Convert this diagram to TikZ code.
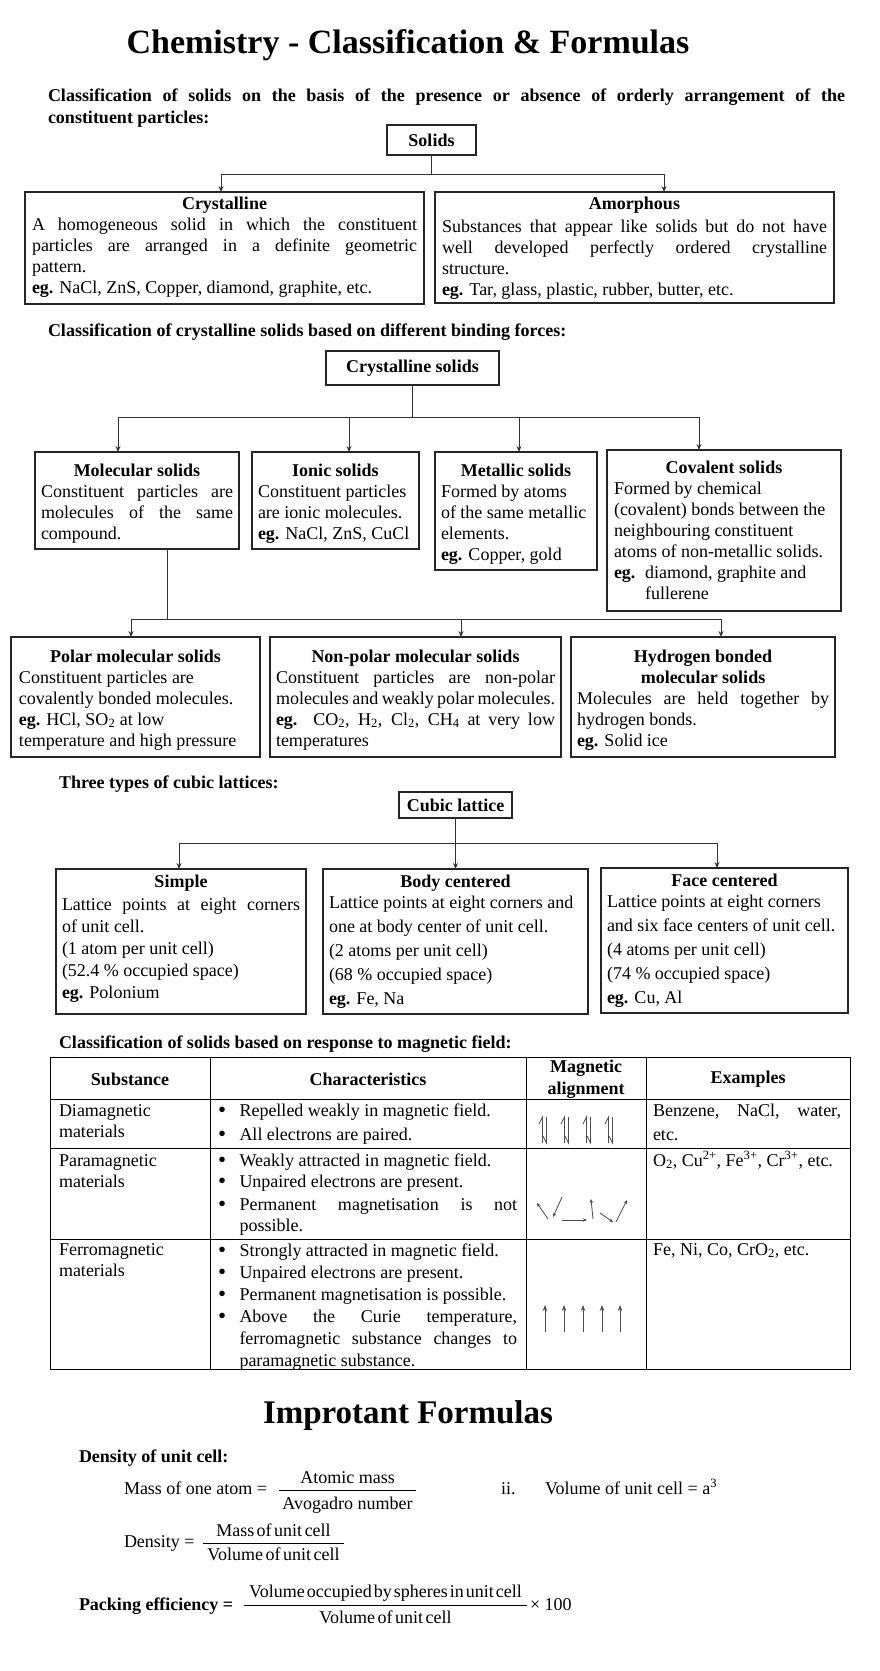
\documentclass[tikz,border=0pt]{standalone}
\usepackage{fontspec}
\setmainfont{Liberation Serif}
\usetikzlibrary{arrows.meta}
\newcommand\tline[2]{\hbox to\linewidth{\hfil\rule{0pt}{#1pt}\textbf{#2}\hfil}}
\newcommand\jline[1]{\hbox to\linewidth{#1}}
\newcommand\rline[1]{\hbox{#1}}
\newcommand\bdot{\makebox[21.5pt][l]{\raisebox{-1.2pt}{\fontsize{23}{23}\selectfont\textbullet}}}
\newcommand\bul[1]{\hbox{\bdot#1}}
\newcommand\bulj[1]{\hbox to\linewidth{\bdot#1}}
\newcommand\cnt[1]{\hbox{\hskip21.5pt #1}}
\newcommand\cntj[1]{\hbox to\linewidth{\hskip21.5pt #1}}
\newcommand\bx[8]{\node[boxs,inner xsep=#6pt] (#1) at (#2,#3) {\parbox[c][#5pt][t]{\dimexpr#4pt-#6pt*2\relax}{\fontsize{18}{#7}\selectfont #8}};}
\begin{document}
\begin{tikzpicture}[x=1pt,y=-1pt,font=\fontsize{18}{21}\selectfont]
\tikzset{
  boxs/.style={draw=black!85, line width=1.1pt, inner ysep=0pt, anchor=north west, outer sep=0pt},
  hbox/.style={boxs, inner xsep=0pt, font=\fontsize{18}{21}\selectfont\bfseries},
  conn/.style={draw=black!80, line width=1pt},
  arr/.style={conn, -{Stealth[length=6pt,width=5pt]}},
  txt/.style={inner sep=0pt, outer sep=0pt},
  head/.style={txt, anchor=base west, font=\fontsize{18}{22}\selectfont\bfseries},
  tab/.style={draw=black, line width=0.8pt},
  mag/.style={draw=black!70, line width=0.8pt},
  magar/.style={mag, -{Stealth[length=4pt,width=3.5pt]}},
}
\fill[white] (0,0) rectangle (880,1671);
\useasboundingbox (0,0) rectangle (880,1671);

% ---------- title ----------
\node[txt, anchor=base, font=\fontsize{34}{40}\selectfont\bfseries] (title) at (408,53) {Chemistry - Classification \& Formulas};

% ---------- section 1 ----------
\node[txt, anchor=base west] (h1) at (48,101) {\parbox[t]{797pt}{\fontsize{18}{22}\selectfont\bfseries
  \jline{Classification of solids on the basis of the presence or absence of orderly arrangement of the}
  \rline{constituent particles:}}};
\node[hbox, minimum width=89pt, minimum height=30pt] (solids) at (387,125) {Solids};
\bx{crys}{25}{192}{399}{112}{7}{21}{%
  \tline{17}{Crystalline}
  \jline{A homogeneous solid in which the constituent}
  \jline{particles are arranged in a definite geometric}
  \rline{pattern.}
  \rline{\textbf{eg.} NaCl, ZnS, Copper, diamond, graphite, etc.}}
\bx{amor}{435}{192}{399}{111}{7}{21}{%
  \tline{17}{Amorphous}\vskip2pt
  \jline{Substances that appear like solids but do not have}
  \jline{well developed perfectly ordered crystalline}
  \rline{structure.}
  \rline{\textbf{eg.} Tar, glass, plastic, rubber, butter, etc.}}
\coordinate (x1a) at (221,0);
\coordinate (x1b) at (664,0);
\draw[conn] (solids.south) -- ++(0,19) coordinate (j1);
\draw[arr] (j1) -| (crys.north -| x1a);
\draw[arr] (j1) -| (amor.north -| x1b);

% ---------- section 2 ----------
\node[head] (h2) at (48,336) {Classification of crystalline solids based on different binding forces:};
\node[hbox, minimum width=173pt, minimum height=34pt] (cs) at (326,351) {Crystalline solids};
\bx{mol}{35}{452}{204}{97}{6}{21}{%
  \tline{24}{Molecular solids}
  \jline{Constituent particles are}
  \jline{molecules of the same}
  \rline{compound.}}
\bx{ion}{252}{452}{167}{97}{6}{21}{%
  \tline{24}{Ionic solids}
  \rline{Constituent particles}
  \rline{are ionic molecules.}
  \rline{\textbf{eg.} NaCl, ZnS, CuCl}}
\bx{met}{435}{452}{162}{118}{6}{21}{%
  \tline{24}{Metallic solids}
  \rline{Formed by atoms}
  \rline{of the same metallic}
  \rline{elements.}
  \rline{\textbf{eg.} Copper, gold}}
\bx{cov}{607}{450}{234}{161}{7}{21}{%
  \tline{23}{Covalent solids}
  \rline{Formed by chemical}
  \rline{(covalent) bonds between the}
  \rline{neighbouring constituent}
  \rline{atoms of non-metallic solids.}
  \rline{\makebox[31pt][l]{\textbf{eg.}}diamond, graphite and}
  \rline{\hskip31pt fullerene}}
\coordinate (x2a) at (118,0);
\coordinate (x2b) at (349,0);
\coordinate (x2c) at (519,0);
\coordinate (x2d) at (699,0);
\draw[conn] (cs.south) -- ++(0,32) coordinate (j2);
\draw[arr] (j2) -| (mol.north -| x2a);
\draw[arr] (j2) -| (ion.north -| x2b);
\draw[arr] (j2) -| (met.north -| x2c);
\draw[arr] (j2) -| (cov.north -| x2d);

\bx{polar}{11}{637}{249}{120}{8}{21}{%
  \tline{25}{Polar molecular solids}
  \rline{Constituent particles are}
  \rline{covalently bonded molecules.}
  \rline{\textbf{eg.} HCl, SO\textsubscript{2} at low}
  \rline{temperature and high pressure}}
\bx{nonpolar}{270}{637}{291}{120}{6}{21}{%
  \tline{25}{Non-polar molecular solids}
  \jline{Constituent particles are non-polar}
  \jline{molecules and weakly polar molecules.}
  \jline{\textbf{eg.} CO\textsubscript{2}, H\textsubscript{2}, Cl\textsubscript{2}, CH\textsubscript{4} at very low}
  \rline{temperatures}}
\bx{hyd}{571}{637}{264}{120}{6}{21}{%
  \tline{25}{Hydrogen bonded}
  \tline{0}{molecular solids}
  \jline{Molecules are held together by}
  \rline{hydrogen bonds.}
  \rline{\textbf{eg.} Solid ice}}
\coordinate (j3) at (167,619);
\coordinate (x3a) at (131,0);
\coordinate (x3b) at (461,0);
\coordinate (x3c) at (721,0);
\draw[conn] (mol.south -| j3) -- (j3);
\draw[arr] (j3) -| (polar.north -| x3a);
\draw[arr] (j3) -| (nonpolar.north -| x3b);
\draw[arr] (j3) -| (hyd.north -| x3c);

% ---------- section 3 ----------
\node[head] (h3) at (59,788) {Three types of cubic lattices:};
\node[hbox, minimum width=113pt, minimum height=26pt] (cub) at (399,792) {Cubic lattice};
\bx{sc}{56}{869}{250}{145}{6}{22}{%
  \tline{18}{Simple}\vskip1pt
  \jline{Lattice points at eight corners}
  \rline{of unit cell.}
  \rline{(1 atom per unit cell)}
  \rline{(52.4 \% occupied space)}
  \rline{\textbf{eg.} Polonium}}
\bx{bcc}{323}{869}{265}{145}{6}{24}{%
  \tline{18}{Body centered}\vskip-3pt
  \rline{Lattice points at eight corners and}
  \rline{one at body center of unit cell.}
  \rline{(2 atoms per unit cell)}
  \rline{(68 \% occupied space)}
  \rline{\textbf{eg.} Fe, Na}}
\bx{fcc}{601}{868}{247}{145}{6}{24}{%
  \tline{18}{Face centered}\vskip-3pt
  \rline{Lattice points at eight corners}
  \rline{and six face centers of unit cell.}
  \rline{(4 atoms per unit cell)}
  \rline{(74 \% occupied space)}
  \rline{\textbf{eg.} Cu, Al}}
\coordinate (x4a) at (179,0);
\coordinate (x4c) at (717,0);
\draw[conn] (cub.south) -- ++(0,25) coordinate (j4);
\draw[arr] (j4) -| (sc.north -| x4a);
\draw[arr] (j4) -- (bcc.north -| j4);
\draw[arr] (j4) -| (fcc.north -| x4c);

% ---------- section 4 : table ----------
\node[head] (h4) at (59,1048) {Classification of solids based on response to magnetic field:};
\draw[tab] (50,1057) rectangle (850,1369);
\draw[tab] (210,1057) -- (210,1369);
\draw[tab] (526,1057) -- (526,1369);
\draw[tab] (646,1057) -- (646,1369);
\draw[tab] (50,1099) -- (850,1099);
\draw[tab] (50,1148) -- (850,1148);
\draw[tab] (50,1239) -- (850,1239);
\node[txt, font=\fontsize{18}{21}\selectfont\bfseries] (th1) at (130,1079) {Substance};
\node[txt, font=\fontsize{18}{21}\selectfont\bfseries] (th2) at (368,1079) {Characteristics};
\node[txt, font=\fontsize{18}{22}\selectfont\bfseries, align=center] (th3) at (586,1079) {Magnetic\\alignment};
\node[txt, font=\fontsize{18}{21}\selectfont\bfseries] (th4) at (748,1079) {Examples};

\node[txt, anchor=base west] (s1) at (59,1116) {\parbox[t]{145pt}{\rline{Diamagnetic}\rline{materials}}};
\node[txt, anchor=base west] (s2) at (59,1166) {\parbox[t]{145pt}{\rline{Paramagnetic}\rline{materials}}};
\node[txt, anchor=base west] (s3) at (59,1255) {\parbox[t]{145pt}{\rline{Ferromagnetic}\rline{materials}}};

\node[txt, anchor=base west] (c1) at (218,1116) {\parbox[t]{299pt}{%
  \bul{Repelled weakly in magnetic field.}\vskip3pt
  \bul{All electrons are paired.}}};
\node[txt, anchor=base west] (c2) at (218,1166) {\parbox[t]{299pt}{%
  \bul{Weakly attracted in magnetic field.}
  \bul{Unpaired electrons are present.}\vskip2pt
  \bulj{Permanent magnetisation is not}
  \cnt{possible.}}};
\node[txt, anchor=base west] (c3) at (218,1256) {\parbox[t]{299pt}{\fontsize{18}{22}\selectfont
  \bul{Strongly attracted in magnetic field.}
  \bul{Unpaired electrons are present.}
  \bul{Permanent magnetisation is possible.}
  \bulj{Above the Curie temperature,}
  \cntj{ferromagnetic substance changes to}
  \cnt{paramagnetic substance.}}};

\node[txt, anchor=base west] (e1) at (653,1116) {\parbox[t]{188pt}{%
  \jline{Benzene, NaCl, water,}\vskip3pt
  \rline{etc.}}};
\node[txt, anchor=base west] (e2) at (653,1166) {O\textsubscript{2}, Cu\textsuperscript{2+}, Fe\textsuperscript{3+}, Cr\textsuperscript{3+}, etc.};
\node[txt, anchor=base west] (e3) at (653,1255) {Fe, Ni, Co, CrO\textsubscript{2}, etc.};

% magnetic alignment: diamagnetic
\foreach \lx in {542.5,564.5,586.5,608.5}{
  \draw[mag] (\lx,1143) -- (\lx,1117) -- (\lx-3.5,1124);
  \draw[mag] (\lx+4,1117) -- (\lx+4,1143) -- (\lx+0.5,1136);
}
% paramagnetic
\draw[magar] (548,1219) -- (537,1203);
\draw[magar] (562,1197) -- (553,1217);
\draw[magar] (562,1220) -- (587,1220);
\draw[magar] (593,1219) -- (591,1199);
\draw[magar] (600,1213) -- (613,1222);
\draw[magar] (616,1222) -- (627,1200);
% ferromagnetic
\foreach \ax in {545,564,583,602,620}{
  \draw[mag, -{Stealth[length=6pt,width=4.5pt]}] (\ax,1332) -- (\ax,1305);
}

% ---------- formulas ----------
\node[txt, anchor=base, font=\fontsize{33}{38}\selectfont\bfseries] (t2) at (408,1423) {Improtant Formulas};
\node[head] (h5) at (79,1462) {Density of unit cell:};

\node[txt, anchor=base west] (f1l) at (124,1494) {Mass of one atom =};
\node[txt, anchor=base] (f1n) at (347.5,1483) {Atomic mass};
\node[txt, anchor=base] (f1d) at (347.5,1509) {Avogadro number};
\draw[line width=0.8pt] (279,1490) -- (416,1490);
\node[txt, anchor=base west] (f2i) at (501,1494) {ii.};
\node[txt, anchor=base west] (f2) at (545,1494) {Volume of unit cell = a\textsuperscript{3}};

\node[txt, anchor=base west] (f3l) at (124,1547) {Density =};
\node[txt, anchor=base] (f3n) at (273.5,1536) {\spaceskip=2.5pt Mass of unit cell};
\node[txt, anchor=base] (f3d) at (273.5,1560) {\spaceskip=2.5pt Volume of unit cell};
\draw[line width=0.8pt] (203,1543) -- (344,1543);

\node[txt, anchor=base west, font=\fontsize{18}{21}\selectfont\bfseries] (f4l) at (79,1610) {Packing efficiency =};
\node[txt, anchor=base] (f4n) at (385.5,1597) {\spaceskip=2pt Volume occupied by spheres in unit cell};
\node[txt, anchor=base] (f4d) at (385.5,1623) {\spaceskip=2.5pt Volume of unit cell};
\draw[line width=0.8pt] (244,1605) -- (527,1605);
\node[txt, anchor=base west] (f4x) at (530,1610) {× 100};
\end{tikzpicture}
\end{document}
